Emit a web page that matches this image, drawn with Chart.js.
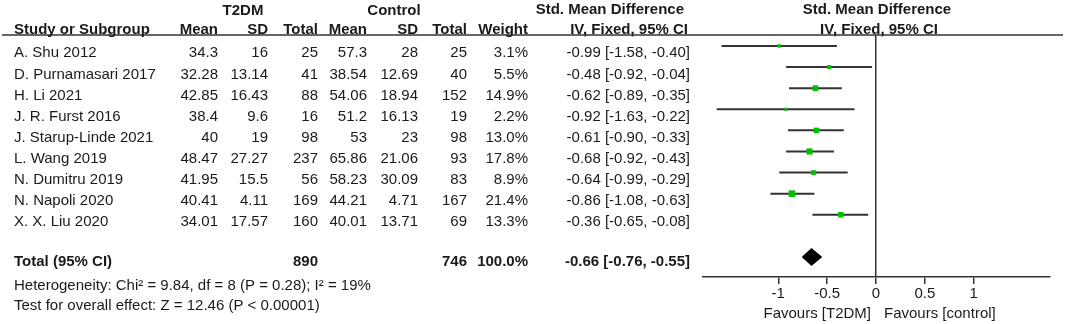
<!DOCTYPE html>
<html>
<head>
<meta charset="utf-8">
<script src="https://cdn.jsdelivr.net/npm/chart.js@4"></script>
<style>
  html, body { margin: 0; padding: 0; background: #fff; }
  #wrap { width: 1065px; height: 324px; }
</style>
</head>
<body>
<div id="wrap"><canvas id="forest" width="1065" height="324"></canvas></div>
<script>
// study data
const studies = ["A. Shu 2012", "D. Purnamasari 2017", "H. Li 2021", "J. R. Furst 2016", "J. Starup-Linde 2021",
                 "L. Wang 2019", "N. Dumitru 2019", "N. Napoli 2020", "X. X. Liu 2020"];
const t2dmMean = [34.3, 32.28, 42.85, 38.4, 40, 48.47, 41.95, 40.41, 34.01];
const t2dmSD = [16, 13.14, 16.43, 9.6, 19, 27.27, 15.5, 4.11, 17.57];
const t2dmN = [25, 41, 88, 16, 98, 237, 56, 169, 160];
const ctrlMean = [57.3, 38.54, 54.06, 51.2, 53, 65.86, 58.23, 44.21, 40.01];
const ctrlSD = [28, 12.69, 18.94, 16.13, 23, 21.06, 30.09, 4.71, 13.71];
const ctrlN = [25, 40, 152, 19, 98, 93, 83, 167, 69];
const weight = [3.1, 5.5, 14.9, 2.2, 13.0, 17.8, 8.9, 21.4, 13.3];
const smd = [-0.99, -0.48, -0.62, -0.92, -0.61, -0.68, -0.64, -0.86, -0.36];
const ciLo = [-1.58, -0.92, -0.89, -1.63, -0.90, -0.92, -0.99, -1.08, -0.65];
const ciHi = [-0.40, -0.04, -0.35, -0.22, -0.33, -0.43, -0.29, -0.63, -0.08];

// pooled result
const totalT2dmN = 890;
const totalCtrlN = 746;
const totalWeight = 100.0;
const totalSmd = -0.66;
const totalLo = -0.76;
const totalHi = -0.55;
const totalRow = 10;
const heterogeneity = "Heterogeneity: Chi\u00b2 = 9.84, df = 8 (P = 0.28); I\u00b2 = 19%";
const overallEffect = "Test for overall effect: Z = 12.46 (P < 0.00001)";

const xTicks = [-1, -0.5, 0, 0.5, 1];
const favourLeft = "Favours [T2DM]";
const favourRight = "Favours [control]";

const FONT = "'Liberation Sans', Arial, sans-serif";
const TXT = "#1a1a1a";
const LINE = "#333333";
const GREEN = "#00c000";

function txt(ctx, s, x, y, align, bold, size) {
    ctx.font = (bold ? "bold " : "") + (size || 15) + "px " + FONT;
    ctx.textAlign = align;
    ctx.textBaseline = "alphabetic";
    ctx.fillStyle = TXT;
    ctx.fillText(s, x, y);
}

// table text, header line, diamond and favours labels
const forestExtras = {
    id: "forestExtras",
    afterDatasetsDraw(chart) {
        const ctx = chart.ctx;
        const xs = chart.scales.x, ys = chart.scales.y;
        const x0 = xs.getPixelForValue(0);
        ctx.save();

        // pooled diamond
        const yd = ys.getPixelForValue(totalRow);
        ctx.beginPath();
        ctx.moveTo(xs.getPixelForValue(totalLo), yd);
        ctx.lineTo(xs.getPixelForValue(totalSmd), yd - 9);
        ctx.lineTo(xs.getPixelForValue(totalHi), yd);
        ctx.lineTo(xs.getPixelForValue(totalSmd), yd + 9);
        ctx.closePath();
        ctx.fillStyle = "#000";
        ctx.fill();

        // header rule
        ctx.strokeStyle = LINE;
        ctx.lineWidth = 1.5;
        ctx.beginPath();
        ctx.moveTo(2, 35);
        ctx.lineTo(1063, 35);
        ctx.stroke();

        // headers
        txt(ctx, "T2DM", 243, 14.5, "center", true);
        txt(ctx, "Control", 394, 14.5, "center", true);
        txt(ctx, "Std. Mean Difference", 684, 14, "right", true);
        txt(ctx, "Std. Mean Difference", x0 + 1, 14, "center", true);
        txt(ctx, "Study or Subgroup", 14, 33.5, "left", true);
        const hdr = [["Mean", 218], ["SD", 268], ["Total", 318], ["Mean", 367], ["SD", 418], ["Total", 467], ["Weight", 528]];
        hdr.forEach(h => txt(ctx, h[0], h[1], 33.5, "right", true));
        txt(ctx, "IV, Fixed, 95% CI", 688, 33.5, "right", true);
        txt(ctx, "IV, Fixed, 95% CI", x0 + 3, 33.5, "center", true);

        // study rows
        studies.forEach((s, i) => {
            const y = ys.getPixelForValue(i) + 11.5;
            txt(ctx, s, 14, y, "left");
            txt(ctx, String(t2dmMean[i]), 218, y, "right");
            txt(ctx, String(t2dmSD[i]), 268, y, "right");
            txt(ctx, String(t2dmN[i]), 318, y, "right");
            txt(ctx, String(ctrlMean[i]), 367, y, "right");
            txt(ctx, String(ctrlSD[i]), 418, y, "right");
            txt(ctx, String(ctrlN[i]), 467, y, "right");
            txt(ctx, weight[i].toFixed(1) + "%", 528, y, "right");
            txt(ctx, smd[i].toFixed(2) + " [" + ciLo[i].toFixed(2) + ", " + ciHi[i].toFixed(2) + "]", 690, y, "right");
        });

        // total rows
        const yt = ys.getPixelForValue(totalRow) + 9.5;
        txt(ctx, "Total (95% CI)", 14, yt, "left", true);
        txt(ctx, String(totalT2dmN), 318, yt, "right", true);
        txt(ctx, String(totalCtrlN), 467, yt, "right", true);
        txt(ctx, totalWeight.toFixed(1) + "%", 528, yt, "right", true);
        txt(ctx, totalSmd.toFixed(2) + " [" + totalLo.toFixed(2) + ", " + totalHi.toFixed(2) + "]", 690, yt, "right", true);
        txt(ctx, heterogeneity, 14, ys.getPixelForValue(totalRow + 1) + 11.5, "left");
        txt(ctx, overallEffect, 14, ys.getPixelForValue(totalRow + 2) + 10.5, "left");

        // favours labels
        txt(ctx, favourLeft, x0 - 5, 318, "right", false, 15);
        txt(ctx, favourRight, x0 + 8, 318, "left", false, 15);
        ctx.restore();
    }
};

const ciSets = studies.map((s, i) => ({
    type: "scatter",
    label: s,
    data: [{ x: ciLo[i], y: i }, { x: ciHi[i], y: i }],
    showLine: true,
    borderColor: LINE,
    borderWidth: 2,
    pointRadius: 0,
    order: 2
}));

const pointSet = {
    type: "scatter",
    label: "SMD",
    data: smd.map((v, i) => ({ x: v, y: i })),
    pointStyle: "rect",
    pointRadius: weight.map(w => (1.5 + 1.1 * Math.sqrt(w)) / Math.SQRT2),
    backgroundColor: GREEN,
    borderColor: GREEN,
    borderWidth: 0,
    order: 1
};

new Chart(document.getElementById("forest").getContext("2d"), {
    type: "scatter",
    data: { datasets: ciSets.concat([pointSet]) },
    options: {
        responsive: false,
        animation: false,
        layout: { padding: { left: 703, right: 15, top: 35, bottom: 0 } },
        plugins: { legend: { display: false }, tooltip: { enabled: false } },
        scales: {
            x: {
                type: "linear",
                min: -1.77,
                max: 1.78,
                afterBuildTicks: s => { s.ticks = xTicks.map(v => ({ value: v })); },
                afterFit: s => { s.height = 47; },
                ticks: {
                    padding: 1,
                    color: TXT,
                    font: { family: FONT, size: 15 },
                    callback: v => String(v)
                },
                grid: {
                    drawOnChartArea: true,
                    color: c => (c.tick && c.tick.value === 0 ? LINE : "rgba(0,0,0,0)"),
                    tickColor: LINE,
                    tickLength: 7,
                    lineWidth: 1.5
                },
                border: { display: true, color: LINE, width: 1.5 }
            },
            y: {
                type: "linear",
                display: false,
                reverse: true,
                min: -0.52,
                max: 10.95
            }
        }
    },
    plugins: [forestExtras]
});
</script>
</body>
</html>
